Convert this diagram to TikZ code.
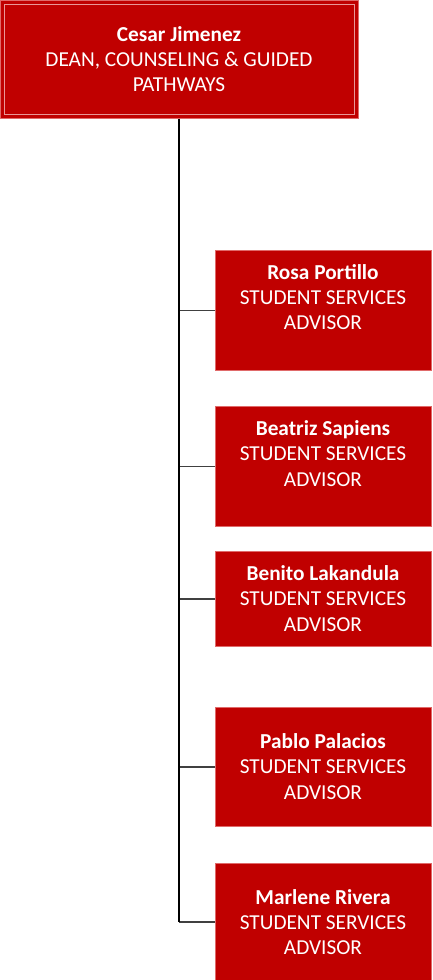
\documentclass[tikz,border=0pt]{standalone}
\usepackage{fontspec}
\setmainfont{Carlito}
\definecolor{boxred}{HTML}{C00000}
\definecolor{edgered}{HTML}{E06A6A}
\definecolor{linegray}{HTML}{404040}
\begin{document}
\begin{tikzpicture}[x=1pt,y=-1pt,
  box/.style={fill=boxred, draw=edgered, line width=0.6pt, inner sep=0pt},
  lbl/.style={text=white, align=center, font=\fontsize{21.3}{25.3}\selectfont, inner sep=0pt},
  trunk/.style={draw=black, line width=2pt},
  branch/.style={draw=linegray, line width=1.5pt}]
\useasboundingbox (0,0) rectangle (432,980);
% top box
\node[box, minimum width=358pt, minimum height=118pt, anchor=north west] (top) at (0,0) {};
\node[draw=edgered!70!white, line width=0.6pt, minimum width=350pt, minimum height=110pt, inner sep=0pt] (topin) at (top.center) {};
\node[lbl] (toptxt) at (179,59) {\textbf{Cesar Jimenez}\\DEAN, COUNSELING \& GUIDED\\PATHWAYS};
% child boxes
\node[box, minimum width=216pt, minimum height=120pt, anchor=north west] (b1) at (215,250) {};
\node[box, minimum width=216pt, minimum height=120pt, anchor=north west] (b2) at (215,406) {};
\node[box, minimum width=216pt, minimum height=95pt, anchor=north west] (b3) at (215,551) {};
\node[box, minimum width=216pt, minimum height=119pt, anchor=north west] (b4) at (215,707) {};
\node[box, minimum width=216pt, minimum height=117pt, anchor=north west] (b5) at (215,863) {};
\node[lbl] (t1) at (323,297) {\textbf{Rosa Portillo}\\STUDENT SERVICES\\ADVISOR};
\node[lbl] (t2) at (323,453.5) {\textbf{Beatriz Sapiens}\\STUDENT SERVICES\\ADVISOR};
\node[lbl] (t3) at (323,598.5) {\textbf{Benito Lakandula}\\STUDENT SERVICES\\ADVISOR};
\node[lbl] (t4) at (323,766.5) {\textbf{Pablo Palacios}\\STUDENT SERVICES\\ADVISOR};
\node[lbl] (t5) at (323,922) {\textbf{Marlene Rivera}\\STUDENT SERVICES\\ADVISOR};
% connectors
\draw[branch] (b1.west) -- (b1.west -| top.south);
\draw[branch] (b2.west) -- (b2.west -| top.south);
\draw[branch] (b3.west) -- (b3.west -| top.south);
\draw[branch] (b4.west) -- (b4.west -| top.south);
\draw[branch] (b5.west) -- (b5.west -| top.south);
\draw[trunk] (top.south) -- (b5.west -| top.south);
\end{tikzpicture}
\end{document}
